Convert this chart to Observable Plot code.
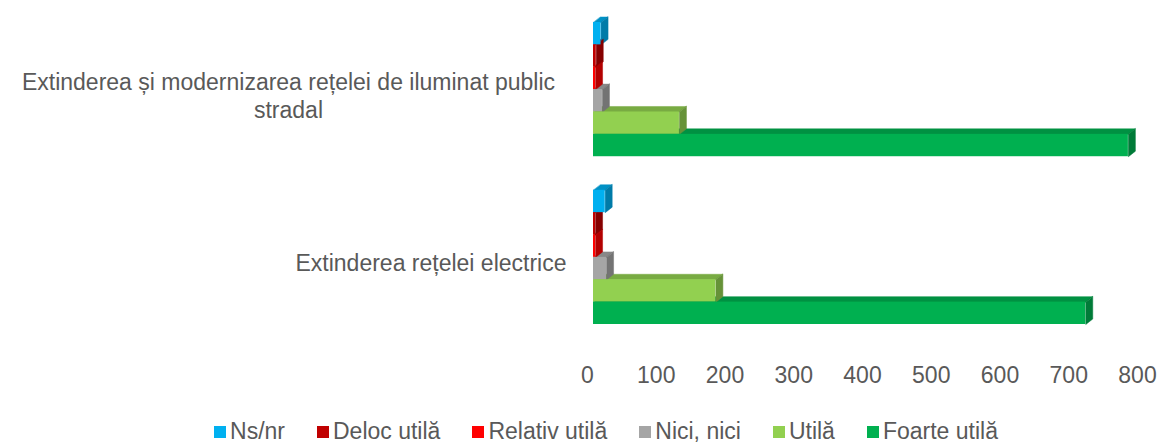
<!DOCTYPE html>
<html>
<head>
<meta charset="utf-8">
<script src="https://cdn.jsdelivr.net/npm/d3@7"></script>
<script src="https://cdn.jsdelivr.net/npm/@observablehq/plot@0.6"></script>
<style>
  body { margin: 0; background: #fff; font-family: "Liberation Sans", Arial, sans-serif; }
  #legend { display: flex; justify-content: center; align-items: center; height: 43px; padding-left: 48px; box-sizing: border-box; color: #595959; font-size: 23px; }
  #legend .item { display: flex; align-items: center; margin: 0 16px; padding-top: 20px; }
  #legend .sw { width: 12px; height: 12px; margin-right: 4px; }
</style>
</head>
<body>
<div id="chart"></div>
<div id="legend"></div>
<script>
// Survey answers per infrastructure project
const categories = [
  "Extinderea și modernizarea rețelei de iluminat public\nstradal",
  "Extinderea rețelei electrice"
];
const series = ["Ns/nr", "Deloc utilă", "Relativ utilă", "Nici, nici", "Utilă", "Foarte utilă"];
const colors = ["#00b0f0", "#c00000", "#ff0000", "#a5a5a5", "#92d050", "#00b050"];

const nsNr         = [11, 17];
const delocUtila   = [4, 3];
const relativUtila = [3, 3];
const niciNici     = [13, 19];
const utila        = [125, 178];
const foarteUtila  = [778, 716];

const xTicks = [0, 100, 200, 300, 400, 500, 600, 700, 800];

const valuesBySeries = [nsNr, delocUtila, relativUtila, niciNici, utila, foarteUtila];

// layout of the horizontal bands (one unit per bar, gap between categories)
const GAP = 1.5;
const step = series.length + GAP;
const yMax = categories.length * step - GAP;

const W = 1164, H = 400;
const xRange = [593, 1143];
const yRange = [22, 324];
const FONT = 23;

// extrusion of the 3D boxes, in pixels, converted to data units
const DEPTH_X = 7, DEPTH_Y = 5.5;
const dxU = DEPTH_X * 800 / (xRange[1] - xRange[0]);
const dyU = DEPTH_Y * yMax / (yRange[1] - yRange[0]);

const rows = [];
categories.forEach((cat, ci) => {
  series.forEach((s, si) => {
    const y1 = ci * step + si;
    rows.push({category: cat, series: s, value: valuesBySeries[si][ci], color: colors[si], y1, y2: y1 + 1, id: `${ci}-${si}`});
  });
});

const shade = (c, k) => d3.color(c).darker(k).formatHex();

const topFaces = rows.flatMap(r => [
  [0, r.y1], [r.value, r.y1], [r.value + dxU, r.y1 - dyU], [dxU, r.y1 - dyU]
].map(([x, y]) => ({x, y, id: r.id, c: shade(r.color, 0.55)})));

const sideFaces = rows.flatMap(r => [
  [r.value, r.y1], [r.value, r.y2], [r.value + dxU, r.y2 - dyU], [r.value + dxU, r.y1 - dyU]
].map(([x, y]) => ({x, y, id: r.id, c: shade(r.color, 1)})));

const centerOf = ci => ci * step + series.length / 2;

const chart = Plot.plot({
  width: W,
  height: H,
  marginLeft: xRange[0],
  marginRight: W - xRange[1],
  marginTop: yRange[0],
  marginBottom: H - yRange[1],
  style: {fontFamily: "'Liberation Sans', Arial, sans-serif", fontSize: `${FONT}px`, color: "#595959", background: "#fff"},
  x: {domain: [0, 800], range: xRange},
  y: {domain: [0, yMax], range: yRange, axis: null},
  color: {type: "identity"},
  marks: [
    Plot.line(topFaces, {x: "x", y: "y", z: "id", fill: "c", stroke: "c", strokeWidth: 0.5, curve: "linear-closed"}),
    Plot.line(sideFaces, {x: "x", y: "y", z: "id", fill: "c", stroke: "c", strokeWidth: 0.5, curve: "linear-closed"}),
    Plot.rect(rows, {x1: 0, x2: "value", y1: "y1", y2: "y2", fill: "color"}),
    Plot.axisX({ticks: xTicks, tickSize: 0, tickPadding: 42, dx: -6, tickFormat: d => String(d), fontSize: FONT}),
    Plot.text([categories[0]], {frameAnchor: "left", y: () => centerOf(0), text: d => d, dx: -305, dy: 5, textAnchor: "middle", lineHeight: 1.22, fontSize: FONT, fill: "#595959"}),
    Plot.text([categories[1]], {frameAnchor: "left", y: () => centerOf(1), text: d => d, dx: -27, dy: 6, textAnchor: "end", fontSize: FONT, fill: "#595959"})
  ]
});
document.getElementById("chart").appendChild(chart);

const legend = document.getElementById("legend");
series.forEach((s, i) => {
  const item = document.createElement("div");
  item.className = "item";
  const sw = document.createElement("span");
  sw.className = "sw";
  sw.style.background = colors[i];
  const label = document.createElement("span");
  label.textContent = s;
  item.append(sw, label);
  legend.appendChild(item);
});
</script>
</body>
</html>
